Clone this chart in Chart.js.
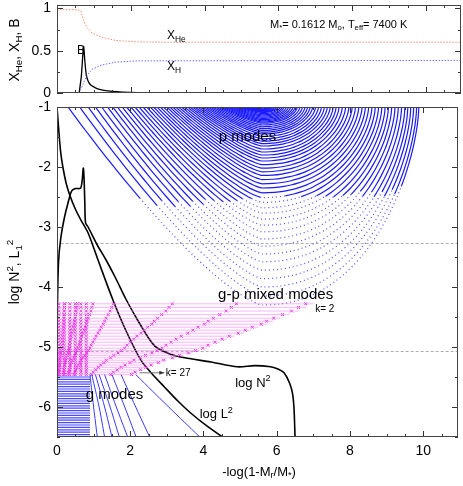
<!DOCTYPE html>
<html><head><meta charset="utf-8">
<script src="https://cdn.jsdelivr.net/npm/chart.js@4.4.1/dist/chart.umd.min.js"></script>
<style>html,body{margin:0;padding:0;background:#fff;width:463px;height:486px;overflow:hidden}
#c1{position:absolute;left:0;top:0}#c2{position:absolute;left:0;top:100px}</style>
</head><body>
<canvas id="c1" width="463" height="100"></canvas>
<canvas id="c2" width="463" height="386"></canvas>
<script>
// ---------- data ----------
const xHe = [[0,0.985],[0.55,0.985],[0.65,0.97],[0.7,0.88],[0.8,0.78],[0.95,0.71],[1.2,0.66],[1.6,0.62],[2.2,0.605],[3,0.6],[11,0.6]];
const xH  = [[0.6,0],[0.7,0.1],[0.8,0.2],[0.95,0.28],[1.2,0.33],[1.6,0.365],[2.2,0.38],[11,0.385]];
const bLed = [[0.6,0],[0.66,0.2],[0.72,0.55],[0.76,0.35],[0.8,0.2],[0.9,0.1],[1.1,0.05],[1.5,0.02],[2.2,0.005],[3,0]];
const logN2 = [[0.0,-6.5],[0.01,-4.5],[0.04,-3.6],[0.1,-3.2],[0.2,-2.85],[0.3,-2.6],[0.4,-2.4],[0.5,-2.36],[0.65,-2.35],[0.72,-2.02],[0.76,-2.6],[0.78,-2.93],[0.85,-3.0],[1.1,-3.3],[1.34,-3.55],[1.6,-3.85],[1.88,-4.2],[2.2,-4.55],[2.5,-4.85],[2.7,-5.0],[3.1,-5.12],[3.49,-5.18],[4.2,-5.25],[4.93,-5.33],[5.4,-5.31],[5.83,-5.33],[6.05,-5.37],[6.2,-5.43],[6.35,-5.6],[6.43,-5.77],[6.47,-6.0],[6.5,-6.5]];
const logL2 = [[0.0,-1.0],[0.05,-1.4],[0.1,-1.75],[0.16,-2.0],[0.25,-2.27],[0.35,-2.47],[0.5,-2.7],[0.65,-2.88],[0.85,-3.1],[1.12,-3.55],[1.53,-4.22],[1.9,-4.75],[2.29,-5.22],[2.6,-5.45],[2.94,-5.67],[3.3,-5.9],[3.65,-6.1],[4.1,-6.32],[4.52,-6.5]];
const pLeft  = [0.30,0.62,0.85,1.05,1.22,1.38,1.52,1.65,1.78,1.90,2.02,2.13,2.24,2.35,2.45,2.55,2.64,2.73,2.82,2.91,3.00,3.08,3.16,3.24,3.32,3.40,3.48,3.56,3.63,3.70,3.77,3.84,3.91,3.98,4.05,4.12,4.19,4.26,4.33,4.40,4.46,4.52,4.58,4.64,4.70,4.76,4.82,4.88,4.94,5.00,5.06,5.12,5.18,5.24,5.30,5.36];
const pRight = [9.88,9.82,9.74,9.66,9.58,9.50,9.41,9.32,9.23,9.14,9.05,8.96,8.87,8.78,8.69,8.60,8.51,8.42,8.33,8.24,8.15,8.06,7.97,7.88,7.79,7.70,7.62,7.54,7.46,7.38,7.30,7.22,7.14,7.06,6.98,6.91,6.84,6.77,6.70,6.63,6.56,6.50,6.44,6.38,6.32,6.26,6.20,6.15,6.10,6.05,6.00,5.95,5.90,5.85,5.80,5.75];
const pDepth = [-4.30,-4.15,-4.00,-3.86,-3.72,-3.58,-3.45,-3.32,-3.20,-3.08,-2.97,-2.87,-2.77,-2.68,-2.59,-2.51,-2.43,-2.35,-2.28,-2.21,-2.14,-2.08,-2.02,-1.96,-1.90,-1.85,-1.80,-1.75,-1.70,-1.65,-1.61,-1.57,-1.53,-1.49,-1.45,-1.42,-1.39,-1.36,-1.33,-1.30,-1.27,-1.25,-1.23,-1.21,-1.19,-1.17,-1.15,-1.13,-1.11,-1.09,-1.08,-1.07,-1.06,-1.05,-1.04,-1.03];
const pCenter = 5.6;
const sSamples = [0,0.04,0.08,0.12,0.17,0.22,0.28,0.34,0.4,0.46,0.52,0.58,0.64,0.7,0.75,0.8,0.84,0.88,0.91,0.94,0.96,0.98,0.995,1];
const mixLevels = [-4.28,-4.34,-4.40,-4.46,-4.52,-4.57,-4.62,-4.67,-4.72,-4.77,-4.82,-4.87,-4.92,-4.97,-5.02,-5.06,-5.10,-5.14,-5.18,-5.22,-5.26,-5.30,-5.34,-5.38,-5.42,-5.46];
const mixEnds   = [7.0,6.8,6.6,6.35,6.1,5.9,5.75,5.5,5.3,5.1,4.85,4.65,4.45,4.25,4.1,3.9,3.7,3.45,3.25,3.0,2.85,2.65,2.5,2.35,2.2,2.1];
const mixFrac = [0.03,0.08,0.14,0.22,0.45,0.7,0.97];
const mixLeftNodes = [0.05,0.2,0.35,0.5,0.65,0.8];
const gLevels = [-5.50,-5.54,-5.58,-5.62,-5.66,-5.70,-5.74,-5.78,-5.82,-5.86,-5.90,-5.94,-5.98,-6.02,-6.06,-6.10,-6.14,-6.18,-6.22,-6.26,-6.30,-6.34,-6.38,-6.42,-6.46,-6.50];
const gTop = [2.15,1.75,1.5,1.3,1.15,1.05,0.95,0.9];
const gMid = [3.05,2.15,1.85,1.62,1.45,1.3,1.15,1.0];
const gBot = [3.9,2.53,2.16,1.93,1.7,1.5,1.3,1.1];
const dashedLevels = [-3.27,-5.06];
const xTicks = [0,2,4,6,8,10];
const yTicksBottom = [-6,-5,-4,-3,-2,-1];
const yTicksTop = [0,0.5,1];

// ---------- helpers ----------
const FONT = "'Liberation Sans', Arial, sans-serif";
function richWidth(ctx, parts, size){let w=0;for(const p of parts){ctx.font=(p.s?size*0.7:size)+'px '+FONT;w+=ctx.measureText(p.t).width;}return w;}
function drawRich(ctx, parts, x, y, size, align, rot){
  ctx.save();ctx.translate(x,y);if(rot)ctx.rotate(rot);
  const w=richWidth(ctx,parts,size);let cx=align==='center'?-w/2:(align==='right'?-w:0);
  ctx.fillStyle='#000';ctx.textBaseline='middle';ctx.textAlign='left';
  for(const p of parts){const sz=p.s?size*0.7:size;ctx.font=sz+'px '+FONT;
    const dy=p.s==='sub'?size*0.3:p.s==='sup'?-size*0.35:0;ctx.fillText(p.t,cx,dy);cx+=ctx.measureText(p.t).width;}
  ctx.restore();
}
function innerTicks(chart, xs, ys){
  const {ctx,chartArea:a,scales}=chart;ctx.save();ctx.strokeStyle='#333';ctx.lineWidth=1;ctx.beginPath();
  for(const [v,maj] of xs){const px=Math.round(scales.x.getPixelForValue(v))+0.5;const L=maj?6:3;
    ctx.moveTo(px,a.bottom);ctx.lineTo(px,a.bottom-L);ctx.moveTo(px,a.top);ctx.lineTo(px,a.top+L);}
  for(const [v,maj] of ys){const py=Math.round(scales.y.getPixelForValue(v))+0.5;const L=maj?6:3;
    ctx.moveTo(a.left,py);ctx.lineTo(a.left+L,py);ctx.moveTo(a.right,py);ctx.lineTo(a.right-L,py);}
  ctx.stroke();ctx.strokeStyle='#444';ctx.strokeRect(a.left+0.5,a.top+0.5,a.right-a.left-1,a.bottom-a.top-1);ctx.restore();
}
function yLabels(chart, vals){const {ctx,chartArea:a,scales:{y}}=chart;
  for(const v of vals) drawRich(ctx,[{t:String(v)}],a.left-6,y.getPixelForValue(v),14,'right');}
const xMinor=[];for(let i=0;i<=21;i++)xMinor.push([i*0.5,i%4===0]);
const hiddenY = (w)=>({grid:{display:false},border:{display:false},ticks:{display:false},afterFit(s){s.width=w;}});

// ---------- top chart ----------
const topTexts = {id:'tt',afterDatasetsDraw(chart){
  const {ctx,scales:{x,y}}=chart;
  innerTicks(chart,xMinor,[[0,1],[0.25,0],[0.5,1],[0.75,0],[1,1]]);
  yLabels(chart,yTicksTop);
  drawRich(ctx,[{t:'M'},{t:'*',s:'sub'},{t:'= 0.1612 M'},{t:'o',s:'sub'},{t:', T'},{t:'eff',s:'sub'},{t:'= 7400 K'}],270,25,11,'left');
  drawRich(ctx,[{t:'X'},{t:'He',s:'sub'}],x.getPixelForValue(2.98),36,12,'left');
  drawRich(ctx,[{t:'X'},{t:'H',s:'sub'}],x.getPixelForValue(2.98),67,12,'left');
  drawRich(ctx,[{t:'B'}],77,y.getPixelForValue(0.5),12,'left');
  drawRich(ctx,[{t:'X'},{t:'He',s:'sub'},{t:', X'},{t:'H',s:'sub'},{t:', B'}],15,50,14,'center',-Math.PI/2);
}};
const toXY = a => a.map(p=>({x:p[0],y:p[1]}));
new Chart(document.getElementById('c1'),{type:'scatter',
  data:{datasets:[
    {data:toXY(xHe),showLine:true,borderColor:'#f09070',borderWidth:1,borderDash:[1.5,1.5],pointRadius:0},
    {data:toXY(xH),showLine:true,borderColor:'#7070ff',borderWidth:1,borderDash:[1.5,1.5],pointRadius:0},
    {data:toXY(bLed),showLine:true,borderColor:'#000',borderWidth:1.3,pointRadius:0,tension:0.2}]},
  options:{animation:false,responsive:false,events:[],layout:{padding:{top:5,bottom:7,right:2,left:0}},
    plugins:{legend:{display:false},tooltip:{enabled:false}},
    scales:{x:{type:'linear',min:0,max:10.95,display:false},
      y:Object.assign({type:'linear',min:0,max:1.04},hiddenY(57))}},
  plugins:[topTexts]});

// ---------- bottom chart ----------
const datasets=[];
for(const g of gLevels) datasets.push({data:[{x:0,y:g},{x:0.9,y:g}],showLine:true,borderColor:'rgba(40,40,255,0.85)',borderWidth:1.2,pointRadius:0});
for(let i=0;i<gTop.length;i++) datasets.push({data:[{x:gTop[i],y:-5.46},{x:gMid[i],y:-6.0},{x:gBot[i],y:-6.5}],showLine:true,borderColor:'#3838ff',borderWidth:1,pointRadius:0,tension:0.4});
const mixNodes=[];
for(let i=0;i<mixLevels.length;i++){
  datasets.push({data:[{x:0,y:mixLevels[i]},{x:mixEnds[i],y:mixLevels[i]}],showLine:true,borderColor:'rgba(255,130,255,0.6)',borderWidth:1,pointRadius:0});
  for(const f of mixFrac) mixNodes.push({x:mixEnds[i]*f,y:mixLevels[i]});
  for(const n of mixLeftNodes) mixNodes.push({x:n,y:mixLevels[i]});
}
datasets.push({data:mixNodes,showLine:false,pointStyle:'crossRot',pointRadius:2,borderColor:'#e020e0',borderWidth:1});
for(let k=0;k<pLeft.length;k++){
  const pts=[];
  for(const s of sSamples) pts.push({x:pCenter-(pCenter-pLeft[k])*Math.pow(1-s,0.75),y:-1+(pDepth[k]+1)*s});
  for(let j=sSamples.length-2;j>=0;j--){const s=sSamples[j];pts.push({x:pCenter+(pRight[k]-pCenter)*Math.pow(1-Math.pow(s,1.6),0.45),y:-1+(pDepth[k]+1)*s});}
  datasets.push({data:pts,showLine:true,borderColor:'#1a1aff',borderWidth:1.2,pointRadius:0,tension:0.3,
    segment:{borderDash:c=>(c.p0.parsed.y<-2.5?[1,3]:undefined),borderColor:c=>(c.p0.parsed.y<-2.5?'#5050ff':undefined)}});
}
datasets.push({data:toXY(logN2),showLine:true,borderColor:'#000',borderWidth:1.6,pointRadius:0,tension:0.3});
datasets.push({data:toXY(logL2),showLine:true,borderColor:'#000',borderWidth:1.6,pointRadius:0,tension:0.3});

const botPlug={id:'bt',
 beforeDatasetsDraw(chart){const {ctx,chartArea:a,scales:{x,y}}=chart;ctx.save();ctx.strokeStyle='#999';ctx.setLineDash([3,2]);ctx.lineWidth=0.8;
   for(const d of dashedLevels){const py=Math.round(y.getPixelForValue(d))+0.5;ctx.beginPath();ctx.moveTo(x.getPixelForValue(0.1),py);ctx.lineTo(a.right,py);ctx.stroke();}ctx.restore();},
 afterDatasetsDraw(chart){const {ctx,chartArea:ar,scales:{x,y}}=chart;
  const yM=[];for(let i=0;i<=11;i++){const v=-6.5+i*0.5;yM.push([v,Number.isInteger(v)]);}
  innerTicks(chart,xMinor,yM);
  yLabels(chart,yTicksBottom);
  for(const v of xTicks) drawRich(ctx,[{t:String(v)}],x.getPixelForValue(v),ar.bottom+14,14,'center');
  const P=(a,b)=>[x.getPixelForValue(a),y.getPixelForValue(b)];
  let p;
  p=P(5.2,-1.5);drawRich(ctx,[{t:'p modes'}],p[0],p[1],15,'center');
  p=P(5.97,-4.13);drawRich(ctx,[{t:'g-p mixed modes'}],p[0],p[1],15,'center');
  p=P(7.05,-4.37);drawRich(ctx,[{t:'k= 2'}],p[0],p[1],10,'left');
  p=P(2.97,-5.43);drawRich(ctx,[{t:'k= 27'}],p[0],p[1],10,'left');
  const a0=P(2.25,-5.43),a1=P(2.93,-5.43);ctx.save();ctx.strokeStyle='#777';ctx.fillStyle='#333';ctx.lineWidth=1;ctx.beginPath();ctx.moveTo(a0[0],a0[1]);ctx.lineTo(a1[0],a1[1]);ctx.stroke();
  ctx.beginPath();ctx.moveTo(a1[0],a1[1]);ctx.lineTo(a1[0]-5,a1[1]-2);ctx.lineTo(a1[0]-5,a1[1]+2);ctx.fill();ctx.restore();
  p=P(5.35,-5.6);drawRich(ctx,[{t:'log N'},{t:'2',s:'sup'}],p[0],p[1],13,'center');
  p=P(4.35,-6.13);drawRich(ctx,[{t:'log L'},{t:'2',s:'sup'}],p[0],p[1],13,'center');
  p=P(1.57,-5.8);drawRich(ctx,[{t:'g modes'}],p[0],p[1],15,'center');
  drawRich(ctx,[{t:'log N'},{t:'2',s:'sup'},{t:', L'},{t:'1',s:'sub'},{t:'2',s:'sup'}],15,172,14,'center',-Math.PI/2);
  drawRich(ctx,[{t:'-log(1-M'},{t:'r',s:'sub'},{t:'/M'},{t:'*',s:'sub'},{t:')'}],259,372,13,'center');
 }};
new Chart(document.getElementById('c2'),{type:'scatter',data:{datasets},
  options:{animation:false,responsive:false,events:[],layout:{padding:{top:7,right:2,left:0,bottom:0}},
    plugins:{legend:{display:false},tooltip:{enabled:false}},
    scales:{x:{type:'linear',min:0,max:10.95,grid:{display:false},border:{display:false},ticks:{display:false},afterFit(s){s.height=49;}},
      y:Object.assign({type:'linear',min:-6.5,max:-1},hiddenY(57))}},
  plugins:[botPlug]});
</script></body></html>
